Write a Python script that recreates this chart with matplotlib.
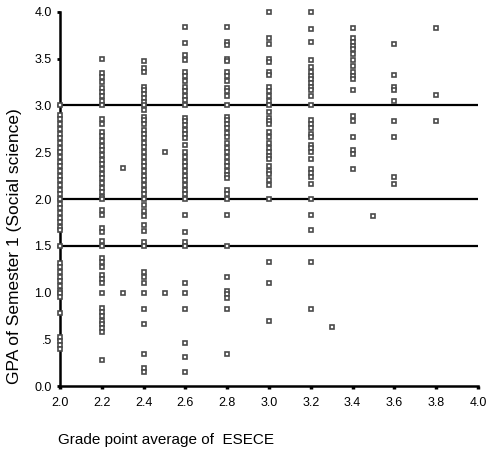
import matplotlib
matplotlib.use('Agg')
import matplotlib.pyplot as plt
import numpy as np

plt.rcParams['font.family'] = ['Liberation Sans', 'DejaVu Sans']

# grade point average of ESECE (x) -> GPA of semester 1 values (y), one list per column
esece_grades = [2.0, 2.2, 2.3, 2.4, 2.5, 2.6, 2.8, 3.0, 3.2, 3.3, 3.4, 3.5, 3.6, 3.8]

gpa_20 = [3.0, 2.9, 2.85, 2.8, 2.75, 2.7, 2.65, 2.6, 2.55, 2.5, 2.45, 2.4, 2.35, 2.3,
          2.25, 2.2, 2.15, 2.1, 2.05, 2.0, 1.95, 1.9, 1.85, 1.8, 1.75, 1.7, 1.67, 1.5,
          1.32, 1.27, 1.22, 1.17, 1.12, 1.07, 1.02, 1.0, 0.95, 0.78, 0.53, 0.48, 0.44, 0.4]
gpa_22 = [3.5, 3.35, 3.3, 3.25, 3.19, 3.14, 3.1, 3.05, 3.0, 2.85, 2.8, 2.72, 2.67, 2.62,
          2.57, 2.52, 2.47, 2.42, 2.37, 2.32, 2.27, 2.22, 2.17, 2.12, 2.07, 2.02, 2.0,
          1.88, 1.83, 1.69, 1.65, 1.55, 1.5, 1.37, 1.33, 1.27, 1.19, 1.15, 1.1, 1.0,
          0.83, 0.79, 0.75, 0.7, 0.66, 0.62, 0.58, 0.28]
gpa_23 = [2.33, 1.0]
gpa_24 = [3.47, 3.4, 3.36, 3.2, 3.16, 3.12, 3.08, 3.04, 3.0, 2.95, 2.88, 2.84, 2.8,
          2.74, 2.7, 2.65, 2.6, 2.56, 2.5, 2.45, 2.4, 2.35, 2.3, 2.25, 2.2, 2.15, 2.1,
          2.05, 2.0, 1.94, 1.87, 1.82, 1.72, 1.66, 1.54, 1.5, 1.22, 1.17, 1.1, 1.0,
          0.82, 0.66, 0.34, 0.19, 0.15]
gpa_25 = [2.5, 1.0]
gpa_26 = [3.84, 3.67, 3.54, 3.49, 3.36, 3.31, 3.26, 3.2, 3.15, 3.1, 3.06, 3.0, 2.87,
          2.83, 2.79, 2.74, 2.7, 2.65, 2.58, 2.5, 2.45, 2.4, 2.35, 2.3, 2.25, 2.2,
          2.15, 2.1, 2.05, 2.0, 1.83, 1.65, 1.54, 1.5, 1.1, 1.0, 0.82, 0.46, 0.31, 0.15]
gpa_28 = [3.84, 3.68, 3.65, 3.5, 3.47, 3.36, 3.31, 3.26, 3.19, 3.15, 3.1, 3.0, 2.88,
          2.84, 2.8, 2.76, 2.71, 2.66, 2.6, 2.55, 2.5, 2.45, 2.4, 2.35, 2.3, 2.26,
          2.22, 2.1, 2.05, 2.0, 1.83, 1.5, 1.17, 1.02, 0.98, 0.94, 0.82, 0.34]
gpa_30 = [4.0, 3.72, 3.66, 3.5, 3.46, 3.36, 3.33, 3.2, 3.15, 3.1, 3.05, 3.0, 2.93,
          2.87, 2.83, 2.8, 2.72, 2.66, 2.6, 2.55, 2.5, 2.46, 2.43, 2.35, 2.3, 2.27,
          2.2, 2.15, 2.0, 1.33, 1.1, 0.7]
gpa_32 = [4.0, 3.82, 3.68, 3.49, 3.41, 3.36, 3.32, 3.28, 3.24, 3.2, 3.17, 3.1, 3.0,
          2.84, 2.8, 2.76, 2.7, 2.66, 2.58, 2.54, 2.5, 2.43, 2.32, 2.28, 2.24, 2.16,
          2.0, 1.83, 1.67, 1.33, 0.82]
gpa_33 = [0.63]
gpa_34 = [3.83, 3.72, 3.68, 3.64, 3.6, 3.55, 3.49, 3.42, 3.36, 3.32, 3.28, 3.17, 2.89,
          2.83, 2.66, 2.52, 2.48, 2.32]
gpa_35 = [1.82]
gpa_36 = [3.66, 3.33, 3.2, 3.16, 3.05, 2.83, 2.66, 2.24, 2.16]
gpa_38 = [3.83, 3.11, 2.83]

columns = [gpa_20, gpa_22, gpa_23, gpa_24, gpa_25, gpa_26, gpa_28, gpa_30, gpa_32,
           gpa_33, gpa_34, gpa_35, gpa_36, gpa_38]

ref_lines = [3.0, 2.0, 1.5]
x_ticks = [2.0, 2.2, 2.4, 2.6, 2.8, 3.0, 3.2, 3.4, 3.6, 3.8, 4.0]
y_ticks = [0.0, 0.5, 1.0, 1.5, 2.0, 2.5, 3.0, 3.5, 4.0]
y_labels = ['0.0', '.5', '1.0', '1.5', '2.0', '2.5', '3.0', '3.5', '4.0']

xs = np.concatenate([[g] * len(c) for g, c in zip(esece_grades, columns)])
ys = np.concatenate(columns)

fig = plt.figure(figsize=(4.86, 4.58), dpi=100)
ax = fig.add_axes([0.1235, 0.157, 0.86, 0.817])

for yl in ref_lines:
    ax.axhline(yl, color='black', lw=1.6, zorder=1)

ax.plot(xs, ys, linestyle='none', marker='s', markersize=3.0,
        markerfacecolor='white', markeredgecolor='#4a4a4a', markeredgewidth=1.2,
        clip_on=False, zorder=3)

ax.set_xlim(2.0, 4.0)
ax.set_ylim(0.0, 4.0)
ax.spines['top'].set_visible(False)
ax.spines['right'].set_visible(False)
ax.spines['left'].set_linewidth(1.8)
ax.spines['bottom'].set_linewidth(1.8)

ax.set_xticks(x_ticks)
ax.set_xticklabels(['%.1f' % t for t in x_ticks])
ax.set_yticks(y_ticks)
ax.set_yticklabels(y_labels)
ax.tick_params(axis='x', direction='out', length=2.5, width=2.5, pad=5, labelsize=9)
ax.tick_params(axis='y', direction='out', length=2, width=2, pad=4, labelsize=9)

ax.set_ylabel('GPA of Semester 1 (Social science)', fontsize=12.5, va='center')
ax.yaxis.set_label_coords(-0.108, 0.375)
fig.text(0.119, 0.039, 'Grade point average of  ESECE', fontsize=11, ha='left', va='center')

fig.savefig('out.png', dpi=100)
